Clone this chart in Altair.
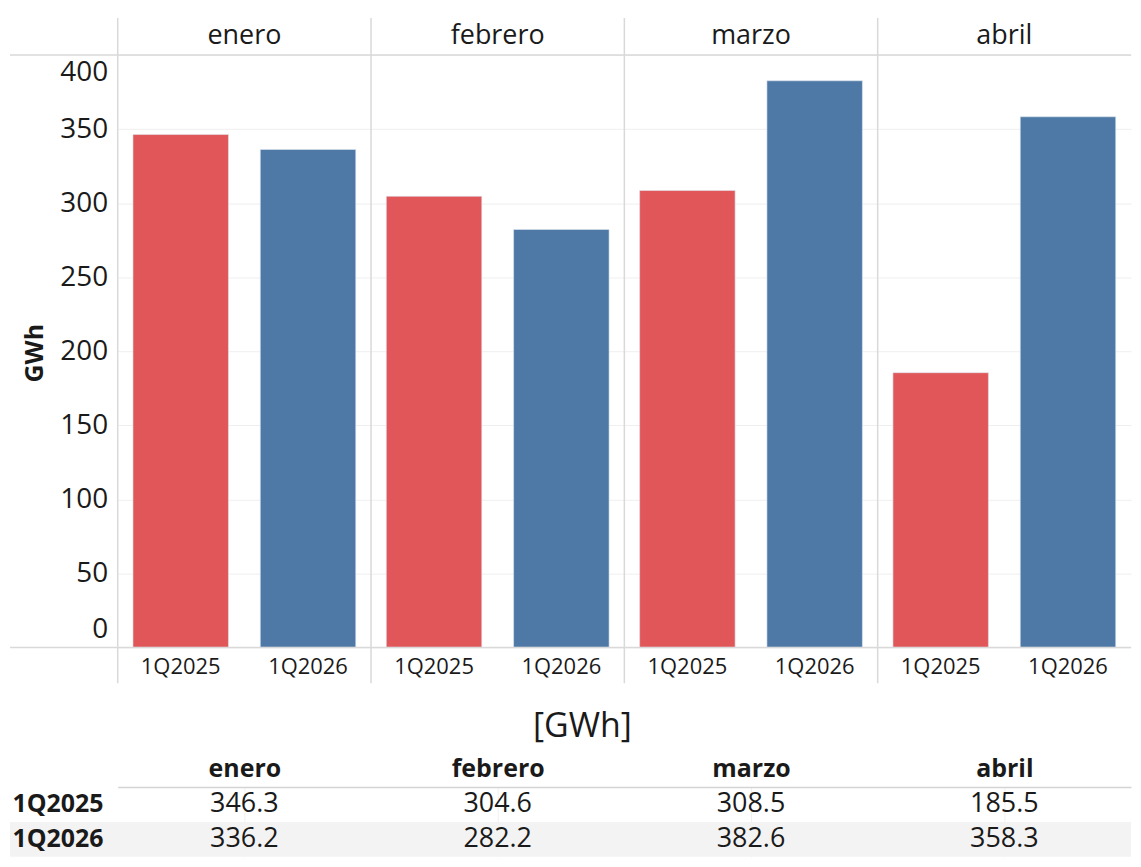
import altair as alt
import pandas as pd

months = ["enero", "febrero", "marzo", "abril"]
periods = ["1Q2025", "1Q2026"]
values_2025 = [346.3, 304.6, 308.5, 185.5]
values_2026 = [336.2, 282.2, 382.6, 358.3]
colors = ["#e15759", "#4e79a7"]
y_ticks = [0, 50, 100, 150, 200, 250, 300, 350, 400]
unit = "GWh"

rows = []
for m, a, b in zip(months, values_2025, values_2026):
    rows.append({"mes": m, "periodo": periods[0], "GWh": a})
    rows.append({"mes": m, "periodo": periods[1], "GWh": b})
df = pd.DataFrame(rows)
df["label"] = df["GWh"].map(lambda v: f"{v:.1f}")
months_df = pd.DataFrame({"mes": months})

FONT = "Open Sans"
TXT = "#1a1a1a"
LINE = "#d9d9d9"
CELL_W = 254
W = CELL_W * 4
H = 594
LEFT = 108

x_month = alt.X("mes:N", sort=months, title=None,
                scale=alt.Scale(paddingInner=0, paddingOuter=0),
                axis=alt.Axis(orient="top", labelAngle=0, labelFontSize=27, labelFont=FONT,
                              labelColor=TXT, ticks=False, domain=False, labelPadding=6))
x_off = alt.XOffset("periodo:N", sort=periods,
                    scale=alt.Scale(paddingInner=0.25, paddingOuter=0.12))

bars = alt.Chart(df).mark_bar(stroke="#dde6ef", strokeWidth=0.6).encode(
    x=x_month,
    xOffset=x_off,
    y=alt.Y("GWh:Q", scale=alt.Scale(domain=[0, 400], nice=False),
            axis=alt.Axis(values=y_ticks, labelFontSize=28, labelFont=FONT, labelColor=TXT,
                          labelFlush=True, labelFlushOffset=-4, title="",
                          grid=True, gridColor="#efefef", domain=False, ticks=False,
                          labelPadding=10)),
    color=alt.Color("periodo:N", scale=alt.Scale(domain=periods, range=colors), legend=None),
)

quarter_labels = alt.Chart(df).mark_text(fontSize=22, font=FONT, color=TXT, baseline="middle").encode(
    x=x_month,
    xOffset=x_off,
    y=alt.value(H + 20),
    text="periodo:N",
)

y_title = alt.Chart(pd.DataFrame({"t": [unit]})).mark_text(
    fontSize=25, font=FONT, fontWeight="bold", color=TXT, angle=270, baseline="middle"
).encode(
    x=alt.value(-83),
    y=alt.value(H / 2 + 2),
    text="t:N",
)

separators = alt.Chart(months_df).mark_rule(color=LINE, strokeWidth=1.5).encode(
    x=alt.X("mes:N", sort=months, bandPosition=0),
    y=alt.value(-37),
    y2=alt.value(H + 36),
)

frame = alt.Chart(pd.DataFrame({"pos": [0, H]})).mark_rule(color=LINE, strokeWidth=1.5).encode(
    x=alt.value(-LEFT),
    x2=alt.value(W),
    y=alt.Y("pos:Q", scale=None),
)

top = alt.layer(bars, quarter_labels, y_title, separators, frame).properties(
    width=W, height=H,
    view=alt.ViewBackground(stroke="transparent"),
)

bg = alt.Chart(pd.DataFrame({"periodo": [periods[1]]})).mark_rect(color="#f3f3f3").encode(
    y=alt.Y("periodo:N", sort=periods),
    x=alt.value(-LEFT),
    x2=alt.value(W),
)

text = alt.Chart(df).mark_text(fontSize=27, font=FONT, color=TXT).encode(
    x=alt.X("mes:N", sort=months, title=None,
            scale=alt.Scale(paddingInner=0, paddingOuter=0),
            axis=alt.Axis(orient="top", labelAngle=0, labelFontSize=25, labelFont=FONT,
                          labelFontWeight="bold", labelColor=TXT, ticks=False, domain=True,
                          domainColor="#d4d4d4", domainWidth=1.5, labelPadding=6, grid=True,
                          bandPosition=0, gridColor="#f1f1f1")),
    y=alt.Y("periodo:N", sort=periods, title=None,
            scale=alt.Scale(paddingInner=0, paddingOuter=0),
            axis=alt.Axis(labelFontSize=25, labelFont=FONT, labelFontWeight="bold",
                          labelColor=TXT, labelAlign="left", labelPadding=LEFT - 2,
                          ticks=False, domain=False, zindex=1)),
    text="label:N",
)

table = alt.layer(bg, text).properties(
    width=W, height=70,
    view=alt.ViewBackground(stroke="transparent"),
    title=alt.TitleParams("[GWh]", fontSize=34, font=FONT, fontWeight="normal",
                          color=TXT, anchor="middle", dx=-42, offset=12),
)

chart = alt.vconcat(top, table, spacing=24).properties(
    padding={"left": 0, "top": 7, "right": 0, "bottom": 0}
).configure(font=FONT, background="white")

chart.save("out.html", embed_options={"renderer": "svg", "actions": False})
